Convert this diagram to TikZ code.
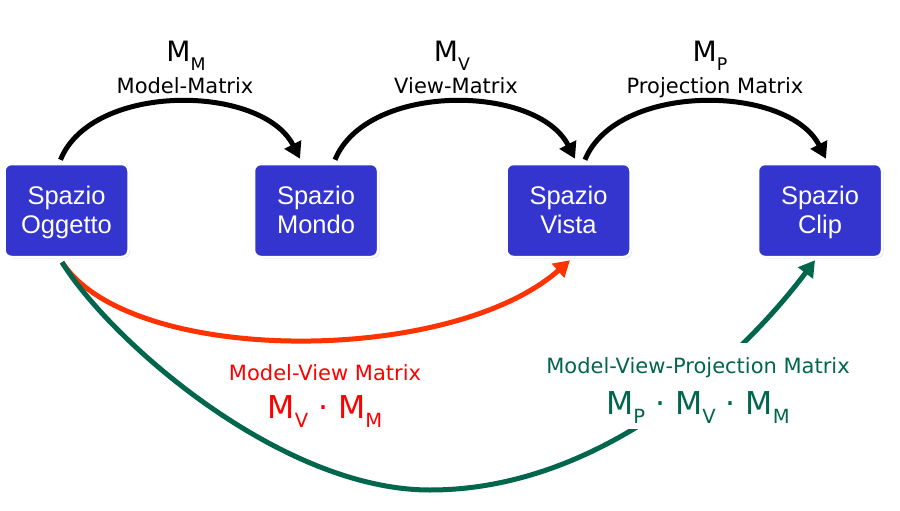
\documentclass[tikz,border=0pt]{standalone}
\usepackage{fontspec}
\setmainfont{Liberation Sans}
\newfontfamily\jpf{DejaVu Sans}
\usetikzlibrary{arrows.meta,shadows}
\definecolor{boxblue}{RGB}{52,52,206}
\definecolor{mvred}{RGB}{255,0,0}
\definecolor{arrred}{RGB}{255,51,0}
\definecolor{mvpgreen}{RGB}{0,102,76}
\newcommand{\Mx}[1]{M\raisebox{-0.3em}{\scalebox{0.62}{#1}}}
\newcommand{\tl}{\rule{0pt}{22pt}}
\newcommand{\bl}{\rule[-5pt]{0pt}{5pt}}
\tikzset{
  spacebox/.style={rectangle, rounded corners=7pt, fill=boxblue, draw=white,
    line width=2.5pt, minimum width=124pt, minimum height=93pt, inner sep=0pt,
    text=white, align=center, font=\fontsize{25.5}{29}\selectfont,
    drop shadow={opacity=0.25, shadow xshift=1.5pt, shadow yshift=-1.5pt}},
  flow/.style={line width=5pt, -{Triangle[length=16pt,width=18pt]}},
  bigm/.style={anchor=base, inner sep=0pt, font=\jpf\fontsize{28}{33}\selectfont},
  smalll/.style={anchor=base, inner sep=0pt, font=\jpf\fontsize{21}{24}\selectfont},
  bigeq/.style={anchor=base, inner sep=0pt, font=\jpf\fontsize{31.5}{35}\selectfont},
  knockout/.style={fill=white, inner xsep=4pt}
}
\begin{document}
\begin{tikzpicture}[x=1pt,y=-1pt]
\useasboundingbox (0,0) rectangle (900,511);
\fill[white] (0,0) rectangle (900,511);

\node[spacebox] (b1) at (66.5,210.5) {\tl Spazio\\Oggetto\bl};
\node[spacebox] (b2) at (316,210.5) {\tl Spazio\\Mondo\bl};
\node[spacebox] (b3) at (568.5,210.5) {\tl Spazio\\Vista\bl};
\node[spacebox] (b4) at (820,210.5) {\tl Spazio\\Clip\bl};

% top labels
\node[bigm] (lm) at (186,62) {\Mx{M}};
\node[smalll] (lmt) at (185,93) {Model-Matrix};
\node[bigm] (lv) at (452,62) {\Mx{V}};
\node[smalll] (lvt) at (456,93) {View-Matrix};
\node[bigm] (lp) at (710,62) {\Mx{P}};
\node[smalll] (lpt) at (715,93) {Projection Matrix};

% black arcs
\draw[flow] ([xshift=-6pt,yshift=3pt]b1.north) .. controls (92,82) and (262,84) .. ([xshift=-16pt,yshift=4pt]b2.north);
\draw[flow] ([xshift=19pt,yshift=3pt]b2.north) .. controls (367,82) and (537,84) .. ([xshift=6.5pt,yshift=4pt]b3.north);
\draw[flow] ([xshift=16.5pt,yshift=3pt]b3.north) .. controls (617,82) and (788,84) .. ([xshift=6pt,yshift=4pt]b4.north);

% red arc
\draw[flow, arrred] ([xshift=-4.5pt,yshift=-4pt]b1.south) .. controls (130,366) and (450,366) .. ([xshift=1.5pt,yshift=-2pt]b3.south);
\node[smalll, text=mvred] (rt) at (325,380) {Model-View Matrix};
\node[bigeq, text=mvred] (re) at (325,418) {\Mx{V} · \Mx{M}};

% green arc
\draw[flow, mvpgreen] ([xshift=-4.5pt,yshift=-4pt]b1.south) .. controls (110,340) and (280,490) .. (430,490) .. controls (600,490) and (740,360) .. ([xshift=-5pt,yshift=-2pt]b4.south);
\node[smalll, knockout, inner ysep=14pt, text=mvpgreen] (gt) at (698,373) {Model-View-Projection Matrix};
\node[bigeq, knockout, inner ysep=6pt, text=mvpgreen] (ge) at (698,414) {\Mx{P} · \Mx{V} · \Mx{M}};
\end{tikzpicture}
\end{document}
